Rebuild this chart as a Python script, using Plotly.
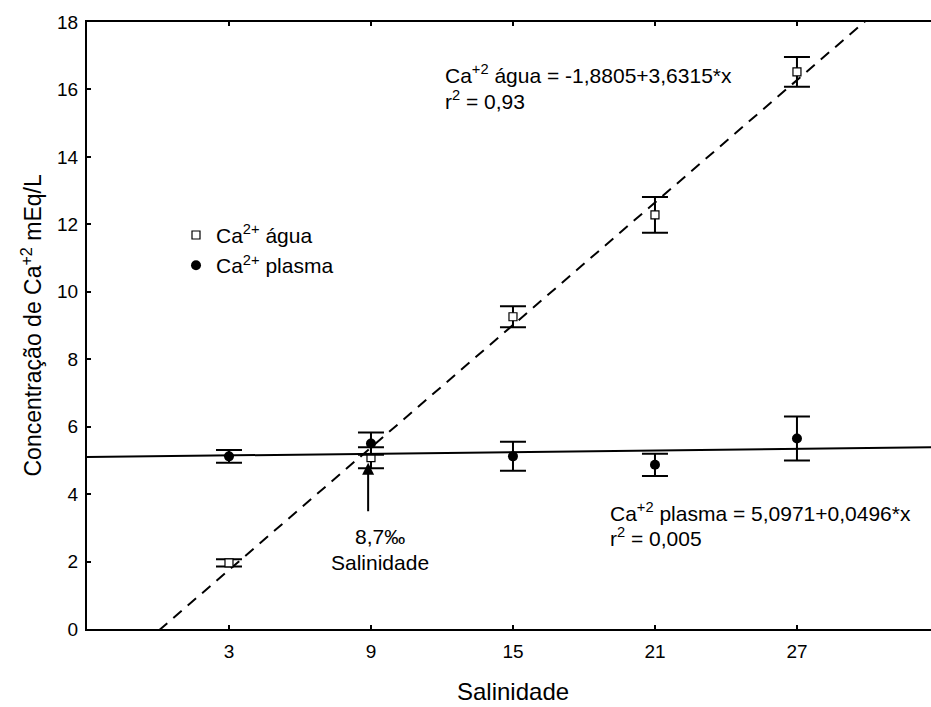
import plotly.graph_objects as go

# Categories (plotted at positions 1..5, labelled with salinity)
positions = [1, 2, 3, 4, 5]
salinity_labels = ["3", "9", "15", "21", "27"]

# Ca2+ in water (open squares) and error (±)
agua_mean = [1.96, 5.08, 9.26, 12.28, 16.52]
agua_err = [0.11, 0.31, 0.31, 0.53, 0.44]

# Ca2+ in plasma (filled circles) and error (±)
plasma_mean = [5.12, 5.50, 5.12, 4.87, 5.65]
plasma_err = [0.19, 0.33, 0.43, 0.33, 0.65]

# Regression coefficients shown in the chart
agua_intercept, agua_slope = -1.8805, 3.6315
plasma_intercept, plasma_slope = 5.0971, 0.0496

# Intersection annotation values (arrow)
arrow_x = 1.98
arrow_tip_y = 4.93
arrow_tail_y = 3.45

X_MIN, X_MAX = 0, 5.944
FONT = "Liberation Sans, Arial, sans-serif"

fit_x = [X_MIN, X_MAX]
agua_fit = [agua_intercept + agua_slope * v for v in fit_x]
plasma_fit = [plasma_intercept + plasma_slope * v for v in fit_x]

fig = go.Figure()

fig.add_trace(go.Scatter(
    x=fit_x, y=plasma_fit, mode="lines",
    line=dict(color="black", width=2), showlegend=False, hoverinfo="skip"))
fig.add_trace(go.Scatter(
    x=fit_x, y=agua_fit, mode="lines",
    line=dict(color="black", width=2, dash="11px,8px"), showlegend=False, hoverinfo="skip"))

fig.add_trace(go.Scatter(
    x=positions, y=agua_mean, mode="markers", name="Ca<sup>2+</sup> água",
    marker=dict(symbol="square", size=8, color="white", line=dict(color="black", width=1.2)),
    error_y=dict(type="data", array=agua_err, color="black", thickness=2, width=13)))
fig.add_trace(go.Scatter(
    x=positions, y=plasma_mean, mode="markers", name="Ca<sup>2+</sup> plasma",
    marker=dict(symbol="circle", size=10, color="black"),
    error_y=dict(type="data", array=plasma_err, color="black", thickness=2, width=13)))


def py(pix):
    return 1 - (pix - 22) / 607.5


def px(pix):
    return (pix - 87) / 844


annotations = [
    dict(x=px(443), y=py(74), xref="paper", yref="paper",
         xanchor="left", yanchor="middle", showarrow=False,
         text="Ca<sup>+2</sup> água = -1,8805+3,6315*x", font=dict(size=21)),
    dict(x=px(443), y=py(100), xref="paper", yref="paper",
         xanchor="left", yanchor="middle", showarrow=False,
         text="r<sup>2</sup> = 0,93", font=dict(size=21)),
    dict(x=px(608), y=py(512), xref="paper", yref="paper",
         xanchor="left", yanchor="middle", showarrow=False,
         text="Ca<sup>+2</sup> plasma = 5,0971+0,0496*x", font=dict(size=21)),
    dict(x=px(608), y=py(537), xref="paper", yref="paper",
         xanchor="left", yanchor="middle", showarrow=False,
         text="r<sup>2</sup> = 0,005", font=dict(size=21)),
    dict(x=arrow_x, y=arrow_tip_y, ax=arrow_x, ay=arrow_tail_y, xref="x", yref="y",
         axref="x", ayref="y", text="", showarrow=True, arrowhead=2, arrowsize=1.2,
         arrowwidth=2, arrowcolor="black"),
    dict(x=px(380), y=py(537), xref="paper", yref="paper",
         xanchor="center", yanchor="middle", showarrow=False,
         text="8,7‰", font=dict(size=21)),
    dict(x=px(380), y=py(563), xref="paper", yref="paper",
         xanchor="center", yanchor="middle", showarrow=False,
         text="Salinidade", font=dict(size=21)),
    dict(x=3, y=py(692), xref="x", yref="paper",
         xanchor="center", yanchor="middle", showarrow=False,
         text="Salinidade", font=dict(size=24)),
    dict(x=px(31), y=0.5, xref="paper", yref="paper", textangle=-90,
         xanchor="center", yanchor="middle", showarrow=False,
         text="Concentração de Ca<sup>+2</sup> mEq/L", font=dict(size=23)),
]

fig.update_layout(
    width=931, height=707,
    margin=dict(l=87, r=0, t=22, b=78),
    paper_bgcolor="white", plot_bgcolor="white",
    font=dict(family=FONT, color="black", size=18),
    annotations=annotations,
    showlegend=True,
    legend=dict(x=px(176), y=py(215), xanchor="left", yanchor="top",
                bgcolor="rgba(0,0,0,0)", font=dict(size=21), tracegroupgap=0,
                itemwidth=30),
    xaxis=dict(range=[X_MIN, X_MAX], tickvals=positions, ticktext=salinity_labels,
               ticks="inside", ticklen=4, tickwidth=1.5, tickcolor="black",
               showline=True, linecolor="black", linewidth=2, mirror="ticks",
               showgrid=False, zeroline=False, tickfont=dict(size=19),
               ticklabelstandoff=4),
    yaxis=dict(range=[0, 18], dtick=2, tick0=0,
               ticks="inside", ticklen=4, tickwidth=1.5, tickcolor="black",
               showline=True, linecolor="black", linewidth=2, mirror=False,
               showgrid=False, zeroline=False, tickfont=dict(size=19),
               ticklabelstandoff=3),
)

fig.write_html("out.html")
